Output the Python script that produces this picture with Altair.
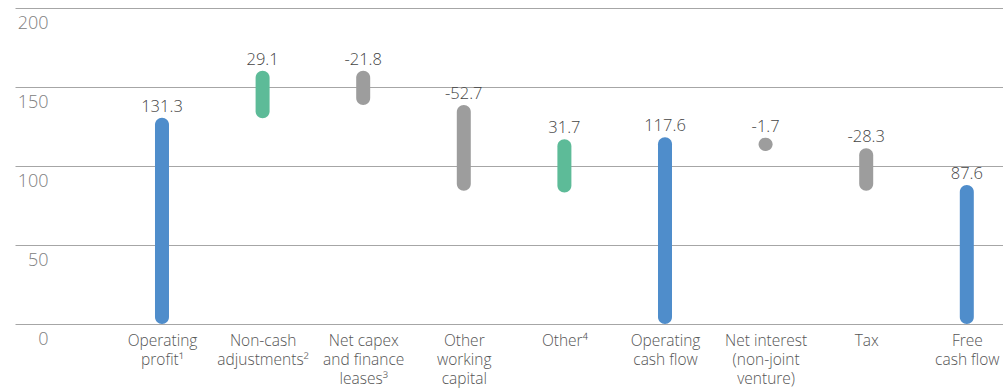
import altair as alt
import pandas as pd

categories = ["Operating|profit¹", "Non-cash|adjustments²", "Net capex|and finance|leases³",
              "Other|working|capital", "Other⁴", "Operating|cash flow",
              "Net interest|(non-joint|venture)", "Tax", "Free|cash flow"]
labels = ["131.3", "29.1", "-21.8", "-52.7", "31.7", "117.6", "-1.7", "-28.3", "87.6"]
bar_start = [0, 130.2, 160.3, 138.6, 83.3, 0, 117.9, 111.2, 0]
bar_end = [130.5, 160.3, 138.6, 84.4, 116.9, 118.2, 109.5, 84.4, 88.0]
kind = ["total", "up", "down", "down", "up", "total", "down", "down", "total"]
y_ticks = [0, 50, 100, 150, 200]

df = pd.DataFrame({"cat": categories, "label": labels, "y0": bar_start,
                   "y1": bar_end, "kind": kind})
df["top"] = df[["y0", "y1"]].max(axis=1)

FONT = "Open Sans"
xscale = alt.Scale(type="point", padding=0.9105, align=0.8024)
xenc = alt.X("cat:N", sort=categories, scale=xscale,
             axis=alt.Axis(title=None, labelExpr="split(datum.label, '|')",
                           labelLineHeight=19, labelFontSize=15.5, labelPadding=9,
                           labelAngle=0, labelColor="#555555", labelFont=FONT,
                           labelFontWeight=300, domain=False, ticks=False, grid=False,
                           labelOverlap=False, labelLimit=0, labelBaseline="top"))
yscale = alt.Scale(domain=[0, 200], nice=False)

bars = alt.Chart(df).mark_bar(width=14, cornerRadius=7).encode(
    x=xenc,
    y=alt.Y("y0:Q", scale=yscale,
            axis=alt.Axis(title=None, values=y_ticks, domain=False, ticks=False,
                          grid=True, gridColor="#a6a6a6", gridWidth=1,
                          labelAlign="right", labelBaseline="top", labelPadding=-33,
                          labelOffset=6, labelFontSize=18, labelColor="#808080",
                          labelFont=FONT, labelFontWeight=300, labelFlush=False,
                          labelOverlap=False, labelBound=False)),
    y2="y1:Q",
    color=alt.Color("kind:N", legend=None,
                    scale=alt.Scale(domain=["total", "up", "down"],
                                    range=["#4f8dcb", "#5dbb98", "#9d9d9d"])),
)

texts = alt.Chart(df).mark_text(baseline="alphabetic", dy=-6, fontSize=16.5,
                                font=FONT, fontWeight=300, color="#444444").encode(
    x=alt.X("cat:N", sort=categories, scale=xscale),
    y=alt.Y("top:Q", scale=yscale),
    text="label:N",
)

chart = alt.layer(bars, texts).properties(
    width=988, height=316,
    autosize=alt.AutoSizeParams(type="none"),
    padding={"left": 15, "top": 8, "right": 0, "bottom": 64},
).configure_view(stroke=None)

chart.save("out.html", embed_options={"renderer": "svg", "actions": False})
